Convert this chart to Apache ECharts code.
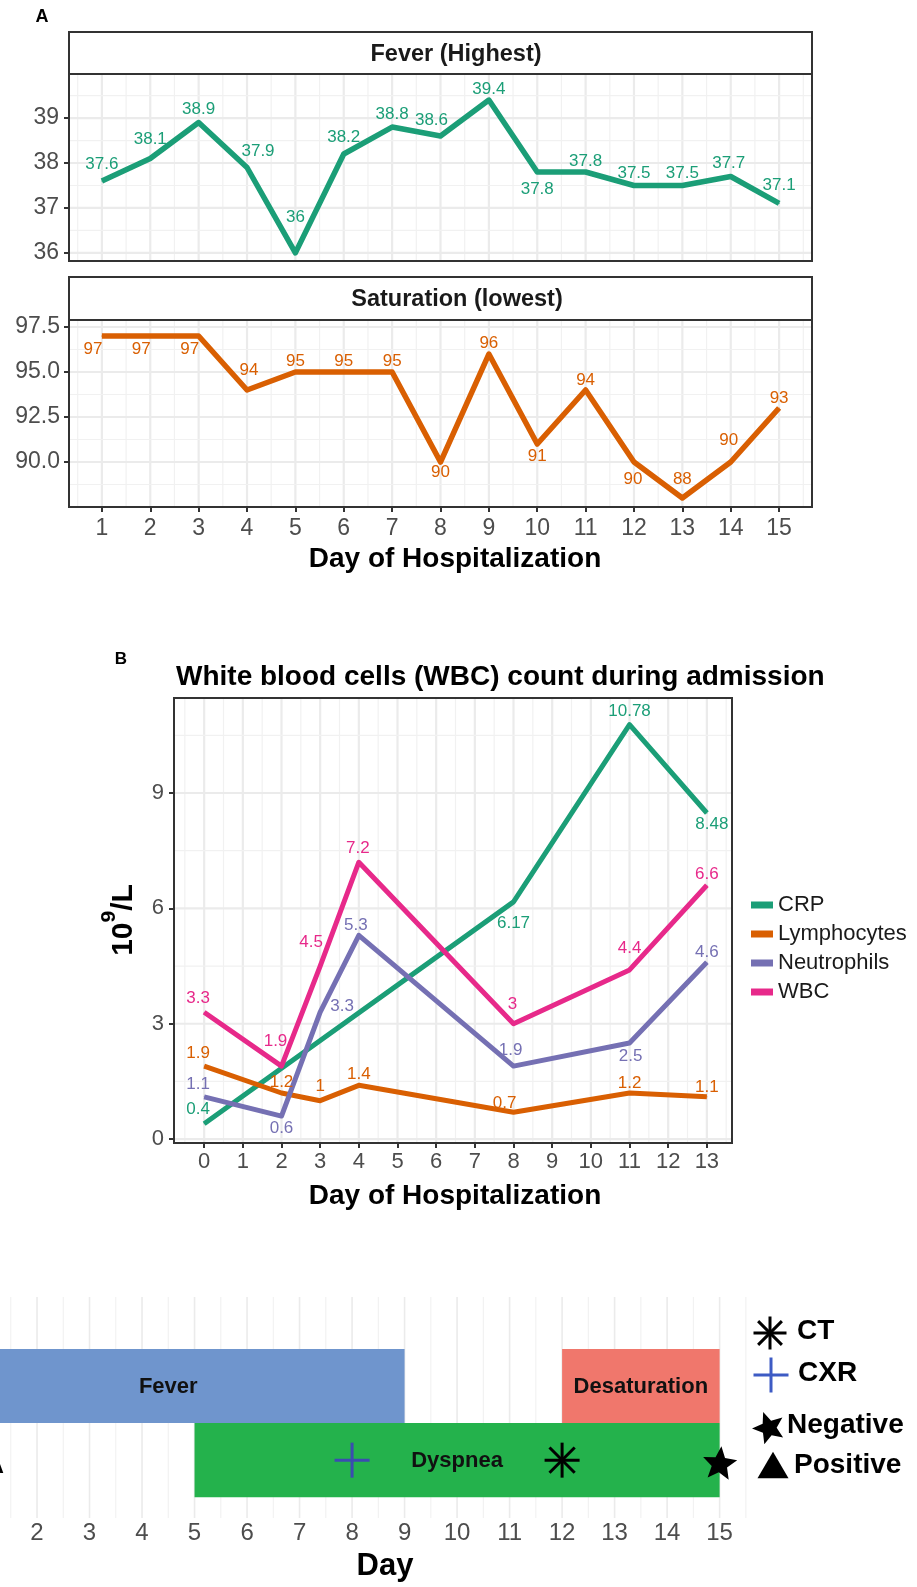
<!DOCTYPE html>
<html>
<head>
<meta charset="utf-8">
<script src="https://cdn.jsdelivr.net/npm/echarts@6/dist/echarts.min.js"></script>
<style>
html,body{margin:0;padding:0;background:#fff;}
#c{width:917px;height:1587px;}
</style>
</head>
<body>
<div id="c"></div>
<script>
// ---------------- DATA ----------------
const hospDays = [1,2,3,4,5,6,7,8,9,10,11,12,13,14,15];
const feverValues = [37.6,38.1,38.9,37.9,36,38.2,38.8,38.6,39.4,37.8,37.8,37.5,37.5,37.7,37.1];
const saturationValues = [97,97,97,94,95,95,95,90,96,91,94,90,88,90,93];

const labDays = [0,2,3,4,8,11,13];
const crpDays = [0,8,11,13];
const crpValues = [0.4,6.17,10.78,8.48];
const lymphocyteValues = [1.9,1.2,1,1.4,0.7,1.2,1.1];
const neutrophilValues = [1.1,0.6,3.3,5.3,1.9,2.5,4.6];
const wbcValues = [3.3,1.9,4.5,7.2,3,4.4,6.6];
const labSeriesNames = ['CRP','Lymphocytes','Neutrophils','WBC'];

const symptomNames = ['Fever','Dyspnea','Desaturation'];
const symptomStart = [0,5,12];
const symptomEnd = [9,15,15];
const symptomRow = [2,1,2];

const testNames = ['CXR','CT','Negative'];
const testDays = [8,12,15];
const testRow = [1,1,1];
const legendTestNames = ['CT','CXR','Negative','Positive'];

const feverTicks = [36,37,38,39];
const saturationTicks = [90,92.5,95,97.5];
const dayTicksA = [1,2,3,4,5,6,7,8,9,10,11,12,13,14,15];
const labTicksY = [0,3,6,9];
const dayTicksB = [0,1,2,3,4,5,6,7,8,9,10,11,12,13];
const dayTicksC = [2,3,4,5,6,7,8,9,10,11,12,13,14,15];

// ---------------- STYLE ----------------
const FONT = '"Liberation Sans", Arial, Helvetica, sans-serif';
const C_GREEN = '#1B9E77', C_ORANGE = '#D95F02', C_PURPLE = '#7570B3', C_PINK = '#E7298A';
const barColors = ['#6F95CD', '#24B24C', '#F0776C'];
const CXR_COLOR = '#3B4CB0';

const feverLabelOffsets = [[0,-17],[0,-19],[0,-13],[11,-16],[0,-36],[0,-17],[0,-13],[-9,-16],[0,-11],[0,17],[0,-11],[0,-12],[0,-12],[-2,-13],[0,-18]];
const satLabelOffsets = [[-9,13],[-9,13],[-9,13],[2,-20],[0,-11],[0,-11],[0,-11],[0,10],[0,-11],[0,12],[0,-10],[-1,17],[0,-19],[-2,-22],[0,-10]];
const crpLabelOffsets = [[-6,-14],[0,21],[0,-13],[5,11]];
const lymphLabelOffsets = [[-6,-13],[0,-11],[0,-14],[0,-11],[-9,-9],[0,-10],[0,-10]];
const neutroLabelOffsets = [[-6,-13],[0,12],[22,-6],[-3,-10],[-3,-16],[1,13],[0,-10]];
const wbcLabelOffsets = [[-6,-14],[-6,-25],[-9,-24],[-1,-14],[-1,-19],[0,-22],[0,-11]];

function halves(a, b) { const r = []; for (let v = a; v <= b + 1e-9; v += 1) r.push(v); return r; }

function lineSeries(name, xs, ys, color, offsets, gi, width) {
  return {
    type: 'line', name: name, xAxisIndex: gi, yAxisIndex: gi,
    data: xs.map((x, i) => ({ value: [x, ys[i]], label: { offset: offsets[i] } })),
    symbol: 'circle', symbolSize: 1, showSymbol: true,
    lineStyle: { width: width, color: color, join: 'round', cap: 'butt' },
    itemStyle: { color: color },
    label: { show: true, position: 'inside', color: color, fontSize: 17, fontFamily: FONT },
    z: 5, silent: true, animation: false, emphasis: { disabled: true }
  };
}

function gridData(xMajor, xMinor, yMajor, yMinor) {
  return [].concat(
    xMajor.map(v => [v, 0, 1]), xMinor.map(v => [v, 0, 0]),
    yMajor.map(v => [v, 1, 1]), yMinor.map(v => [v, 1, 0]));
}
function makeGridRender(majW, minW, majC, minC) {
  return function (params, api) {
    const v = api.value(0), o = api.value(1), major = api.value(2);
    const cs = params.coordSys;
    const p = api.coord([v, v]);
    const shape = o === 0
      ? { x1: p[0], y1: cs.y, x2: p[0], y2: cs.y + cs.height }
      : { x1: cs.x, y1: p[1], x2: cs.x + cs.width, y2: p[1] };
    return { type: 'line', shape: shape, silent: true,
      style: { stroke: major ? majC : minC, lineWidth: major ? majW : minW } };
  };
}
function gridSeries(gi, data, render) {
  return { type: 'custom', xAxisIndex: gi, yAxisIndex: gi, data: data, renderItem: render,
    z: 1, silent: true, animation: false };
}

function markerEls(kind, cx, cy, s, color, rot) {
  const h = s / 2;
  if (kind === 'CT') {
    const d = h * 0.72, st = { stroke: '#000', lineWidth: 3 };
    return [
      { type: 'line', shape: { x1: cx - h, y1: cy, x2: cx + h, y2: cy }, style: st },
      { type: 'line', shape: { x1: cx, y1: cy - h, x2: cx, y2: cy + h }, style: st },
      { type: 'line', shape: { x1: cx - d, y1: cy - d, x2: cx + d, y2: cy + d }, style: st },
      { type: 'line', shape: { x1: cx - d, y1: cy + d, x2: cx + d, y2: cy - d }, style: st }
    ];
  }
  if (kind === 'CXR') {
    const st = { stroke: color || CXR_COLOR, lineWidth: 3 };
    return [
      { type: 'line', shape: { x1: cx - h, y1: cy, x2: cx + h, y2: cy }, style: st },
      { type: 'line', shape: { x1: cx, y1: cy - h, x2: cx, y2: cy + h }, style: st }
    ];
  }
  if (kind === 'Negative') {
    const pts = [], R = h, r = h * 0.45, a0 = -Math.PI / 2 + (rot || 0);
    for (let k = 0; k < 10; k++) {
      const a = a0 + k * Math.PI / 5, rr = k % 2 ? r : R;
      pts.push([cx + rr * Math.cos(a), cy + rr * Math.sin(a)]);
    }
    return [{ type: 'polygon', shape: { points: pts }, style: { fill: '#000' } }];
  }
  const th = s * 0.85;
  return [{ type: 'polygon', shape: { points: [[cx, cy - th / 2], [cx + h, cy + th / 2], [cx - h, cy + th / 2]] }, style: { fill: '#000' } }];
}

function txt(x, y, text, size, weight, align, color) {
  return { type: 'text', x: x, y: y, z: 20, silent: true,
    style: { text: text, fontSize: size, fontWeight: weight || 'normal', fontFamily: FONT,
      fill: color || '#000', align: align || 'center', verticalAlign: 'middle' } };
}

// ---------------- CHART ----------------
const chart = echarts.init(document.getElementById('c'), null, { renderer: 'canvas', width: 917, height: 1587 });

const grids = [
  { left: 69, top: 74, width: 743, height: 187 },
  { left: 69, top: 320, width: 743, height: 187 },
  { left: 174, top: 698, width: 558, height: 445 },
  { left: 0, top: 1297, width: 759, height: 221 }
].map(g => Object.assign({ containLabel: false, outerBoundsMode: 'none' }, g));

const tickStyle = { show: true, length: 5, lineStyle: { color: '#333', width: 2 } };
const noLine = { show: false, onZero: false };
function labelStyle(size, margin, values, fmt) {
  const o = { show: true, fontSize: size, color: '#4D4D4D', fontFamily: FONT, margin: margin, customValues: values };
  if (fmt) o.formatter = fmt;
  return o;
}
const hidden = { axisLine: noLine, axisTick: { show: false }, axisLabel: { show: false }, splitLine: { show: false } };

const xAxes = [
  Object.assign({ gridIndex: 0, type: 'value', min: 0.32, max: 15.68 }, hidden),
  { gridIndex: 1, type: 'value', min: 0.32, max: 15.68, axisLine: noLine, splitLine: { show: false },
    axisTick: Object.assign({ customValues: dayTicksA }, tickStyle), axisLabel: labelStyle(23, 10, dayTicksA) },
  { gridIndex: 2, type: 'value', min: -0.78, max: 13.65, axisLine: noLine, splitLine: { show: false },
    axisTick: Object.assign({ customValues: dayTicksB }, tickStyle), axisLabel: labelStyle(22, 8, dayTicksB) },
  { gridIndex: 3, type: 'value', min: 1.295, max: 15.75, axisLine: noLine, splitLine: { show: false },
    axisTick: { show: false }, axisLabel: labelStyle(24, 3, dayTicksC) }
];
const yAxes = [
  { gridIndex: 0, type: 'value', min: 35.82, max: 39.98, axisLine: noLine, splitLine: { show: false },
    axisTick: Object.assign({ customValues: feverTicks }, tickStyle), axisLabel: labelStyle(23, 10, feverTicks) },
  { gridIndex: 1, type: 'value', min: 87.5, max: 97.89, axisLine: noLine, splitLine: { show: false },
    axisTick: Object.assign({ customValues: saturationTicks }, tickStyle),
    axisLabel: labelStyle(23, 9, saturationTicks, v => Number(v).toFixed(1)) },
  { gridIndex: 2, type: 'value', min: -0.1, max: 11.47, axisLine: noLine, splitLine: { show: false },
    axisTick: Object.assign({ customValues: labTicksY }, tickStyle), axisLabel: labelStyle(22, 10, labTicksY) },
  Object.assign({ gridIndex: 3, type: 'value', min: 0.22, max: 3.2 }, hidden)
];

const renderA = makeGridRender(2.2, 1.2, '#EBEBEB', '#F1F1F1');
const renderC = makeGridRender(1.6, 1.1, '#EBEBEB', '#F1F1F1');

const series = [
  gridSeries(0, gridData(halves(1, 15), halves(0.5, 15.5), feverTicks, [36.5, 37.5, 38.5, 39.5]), renderA),
  gridSeries(1, gridData(halves(1, 15), halves(0.5, 15.5), saturationTicks, [88.75, 91.25, 93.75, 96.25]), renderA),
  gridSeries(2, gridData(halves(0, 13), halves(-0.5, 13.5), labTicksY, [1.5, 4.5, 7.5, 10.5]), renderA),
  gridSeries(3, gridData(halves(2, 15), halves(1.5, 15.5), [], []), renderC),

  lineSeries('Fever (Highest)', hospDays, feverValues, C_GREEN, feverLabelOffsets, 0, 5.5),
  lineSeries('Saturation (lowest)', hospDays, saturationValues, C_ORANGE, satLabelOffsets, 1, 5.5),

  lineSeries('CRP', crpDays, crpValues, C_GREEN, crpLabelOffsets, 2, 5),
  lineSeries('Lymphocytes', labDays, lymphocyteValues, C_ORANGE, lymphLabelOffsets, 2, 5),
  lineSeries('Neutrophils', labDays, neutrophilValues, C_PURPLE, neutroLabelOffsets, 2, 5),
  lineSeries('WBC', labDays, wbcValues, C_PINK, wbcLabelOffsets, 2, 5),

  { type: 'custom', xAxisIndex: 3, yAxisIndex: 3, z: 3, silent: true, animation: false,
    data: symptomNames.map((n, i) => [symptomStart[i], symptomEnd[i], symptomRow[i], i]),
    encode: { x: [0, 1], y: 2 },
    renderItem: function (params, api) {
      const s = api.value(0), e = api.value(1), r = api.value(2), idx = api.value(3);
      const p0 = api.coord([s, r + 0.5]), p1 = api.coord([e, r - 0.5]);
      return { type: 'group', children: [
        { type: 'rect', shape: { x: p0[0], y: p0[1], width: p1[0] - p0[0], height: p1[1] - p0[1] },
          style: { fill: barColors[idx] } },
        { type: 'text', x: (p0[0] + p1[0]) / 2, y: (p0[1] + p1[1]) / 2 + 1,
          style: { text: symptomNames[idx], fontSize: 22, fontWeight: 'bold', fontFamily: FONT,
            fill: '#111', align: 'center', verticalAlign: 'middle' } }
      ] };
    }
  },
  { type: 'custom', xAxisIndex: 3, yAxisIndex: 3, z: 6, silent: true, animation: false,
    data: testNames.map((n, i) => [testDays[i], testRow[i], i]),
    renderItem: function (params, api) {
      const p = api.coord([api.value(0), api.value(1)]);
      const kind = testNames[api.value(2)];
      const dy = kind === 'Negative' ? 4 : 0;
      return { type: 'group', children: markerEls(kind, p[0], p[1] + dy, kind === 'Negative' ? 36 : 35, null, 0.1) };
    }
  }
];

const graphics = [];
graphics.push(txt(42, 17, 'A', 18, 'bold'));
graphics.push({ type: 'rect', z: 15, shape: { x: 69, y: 32, width: 743, height: 42 }, style: { fill: '#fff', stroke: '#333', lineWidth: 2 } });
graphics.push(txt(456, 55, 'Fever (Highest)', 23.5, 'bold', 'center', '#1A1A1A'));
graphics.push({ type: 'rect', z: 15, shape: { x: 69, y: 277, width: 743, height: 43 }, style: { fill: '#fff', stroke: '#333', lineWidth: 2 } });
graphics.push(txt(457, 300, 'Saturation (lowest)', 23.5, 'bold', 'center', '#1A1A1A'));
[[69, 74, 743, 187], [69, 320, 743, 187], [174, 698, 558, 445]].forEach(b => {
  graphics.push({ type: 'rect', z: 15, silent: true, shape: { x: b[0], y: b[1], width: b[2], height: b[3] },
    style: { fill: 'none', stroke: '#333', lineWidth: 2 } });
});
graphics.push(txt(455, 559, 'Day of Hospitalization', 28, 'bold'));
graphics.push(txt(121, 659, 'B', 17, 'bold'));
graphics.push(txt(176, 677, 'White blood cells (WBC) count during admission', 28, 'bold', 'left'));
graphics.push({ type: 'text', x: 119, y: 920, rotation: Math.PI / 2, z: 20, silent: true,
  style: { text: '{a|10}{b|9}{a|/L}', fill: '#000', align: 'center', verticalAlign: 'middle',
    rich: {
      a: { fontSize: 30, fontWeight: 'bold', fontFamily: FONT, verticalAlign: 'bottom' },
      b: { fontSize: 21, fontWeight: 'bold', fontFamily: FONT, verticalAlign: 'bottom', padding: [0, 0, 19, 0] }
    } } });
graphics.push(txt(455, 1196, 'Day of Hospitalization', 28, 'bold'));
graphics.push(txt(385, 1566, 'Day', 31, 'bold'));
graphics.push(txt(-12, 1467, 'A', 22, 'bold', 'left'));
const legendC = [
  { cx: 770, cy: 1333, s: 33, tx: 797, ty: 1331 },
  { cx: 771, cy: 1375, s: 35, tx: 798, ty: 1373 },
  { cx: 769, cy: 1428, s: 34, tx: 787, ty: 1425 },
  { cx: 773, cy: 1465, s: 31, tx: 794, ty: 1465 }
];
legendC.forEach((l, i) => {
  graphics.push({ type: 'group', z: 20, silent: true,
    children: markerEls(legendTestNames[i], l.cx, l.cy, l.s, '#3D5BC4', -0.35) });
  graphics.push(txt(l.tx, l.ty, legendTestNames[i], 28, 'bold', 'left'));
});

chart.setOption({
  animation: false,
  backgroundColor: '#fff',
  grid: grids,
  xAxis: xAxes,
  yAxis: yAxes,
  legend: {
    data: labSeriesNames, orient: 'vertical', left: 746, top: 889,
    itemWidth: 22, itemHeight: 7, itemGap: 7, icon: 'rect', selectedMode: false,
    textStyle: { fontSize: 22, color: '#1A1A1A', fontFamily: FONT, lineHeight: 22 }
  },
  series: series,
  graphic: graphics
});
</script>
</body>
</html>
